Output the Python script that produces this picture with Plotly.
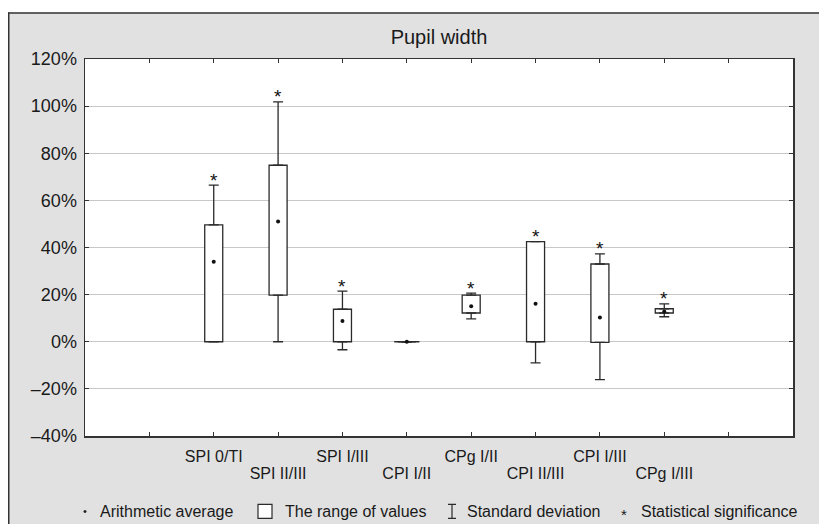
import plotly.graph_objects as go

# ---------------- data ----------------
categories = ["SPI 0/TI", "SPI II/III", "SPI I/III", "CPI I/II",
              "CPg I/II", "CPI II/III", "CPI I/III", "CPg I/III"]
mean_vals = [34.0, 51.0, 8.8, 0.0, 15.1, 16.1, 10.3, 12.8]
range_low = [0.0, 19.8, 0.0, 0.0, 12.2, 0.0, -0.3, 12.2]
range_high = [49.6, 74.9, 13.8, 0.0, 19.8, 42.5, 33.0, 14.0]
sd_low = [0.0, 0.0, -3.4, 0.0, 9.7, -9.0, -16.1, 10.6]
sd_high = [66.5, 101.8, 21.5, 0.0, 20.6, 42.5, 37.3, 16.1]
significant = [True, True, True, False, True, True, True, True]
y_tick_vals = [-40, -20, 0, 20, 40, 60, 80, 100, 120]
y_tick_text = ["\u201340%", "\u201320%", "0%", "20%", "40%", "60%", "80%", "100%", "120%"]
legend_labels = ["Arithmetic average", "The range of values",
                 "Standard deviation", "Statistical significance"]

# ---------------- geometry ----------------
W, H = 819, 524
L, R, T, B = 85, 26, 58.5, 88
pw, ph = W - L - R, H - T - B


def fx(px):  # window pixel -> paper
    return (px - L) / pw


def fy(py):
    return (H - B - py) / ph


positions = list(range(2, 2 + len(categories)))
tick_vals = list(range(1, len(categories) + 3))
row1_vals = [p for i, p in enumerate(positions) if i % 2 == 0]
row1_text = [c for i, c in enumerate(categories) if i % 2 == 0]
row2_vals = [p for i, p in enumerate(positions) if i % 2 == 1]
row2_text = [c for i, c in enumerate(categories) if i % 2 == 1]
row1_full = ["" if v not in row1_vals else row1_text[row1_vals.index(v)] for v in tick_vals]

DARK = "#2a2a2a"
XR = [0, len(categories) + 3]

fig = go.Figure()

# boxes (range of values) with upper whisker
fig.add_trace(go.Bar(
    x=positions, base=range_low,
    y=[h - l for h, l in zip(range_high, range_low)],
    width=0.28,
    marker=dict(color="white", line=dict(color=DARK, width=1.3)),
    error_y=dict(type="data", symmetric=False,
                 array=[s - h for s, h in zip(sd_high, range_high)],
                 arrayminus=[0] * len(categories),
                 color=DARK, thickness=1.3, width=5),
    hoverinfo="skip", showlegend=False,
))
# lower whisker
fig.add_trace(go.Bar(
    x=positions, base=range_low, y=[0] * len(categories), width=0.28,
    marker=dict(color="rgba(0,0,0,0)", line=dict(width=0)),
    error_y=dict(type="data", symmetric=False,
                 array=[0] * len(categories),
                 arrayminus=[l - s for l, s in zip(range_low, sd_low)],
                 color=DARK, thickness=1.3, width=5),
    hoverinfo="skip", showlegend=False,
))
# flat boxes (zero range)
flat_x = [p for p, lo, hi in zip(positions, range_low, range_high) if lo == hi]
flat_y = [lo for lo, hi in zip(range_low, range_high) if lo == hi]
fig.add_trace(go.Scatter(
    x=flat_x, y=flat_y, mode="markers",
    marker=dict(symbol="line-ew", size=18, line=dict(color=DARK, width=1.5)),
    hoverinfo="skip", showlegend=False,
))
# means
fig.add_trace(go.Scatter(
    x=positions, y=mean_vals, mode="markers",
    marker=dict(size=4, color="#111111"),
    hoverinfo="skip", showlegend=False,
))
# dummy trace for the second-row label axis
fig.add_trace(go.Scatter(x=[None], y=[None], xaxis="x2", yaxis="y",
                         hoverinfo="skip", showlegend=False))

annotations = []
# significance stars (data coordinates)
for p, v, s in zip(positions, sd_high, significant):
    if s:
        annotations.append(dict(x=p, y=v, xref="x", yref="y", text="*", showarrow=False,
                                xanchor="center", yanchor="middle", yshift=5,
                                font=dict(size=19, color="#111111")))

shapes = [
    # white area outside the grey frame
    dict(type="rect", xref="paper", yref="paper", x0=fx(-2), x1=fx(W + 2), y0=fy(12), y1=fy(-2),
         fillcolor="white", line=dict(width=0), layer="above"),
    dict(type="rect", xref="paper", yref="paper", x0=fx(-2), x1=fx(8), y0=fy(H + 2), y1=fy(-2),
         fillcolor="white", line=dict(width=0), layer="above"),
    # frame lines
    dict(type="line", xref="paper", yref="paper", x0=fx(8), x1=fx(W + 2), y0=fy(12.5), y1=fy(12.5),
         line=dict(color="#333333", width=1.5), layer="above"),
    dict(type="line", xref="paper", yref="paper", x0=fx(8.75), x1=fx(8.75), y0=fy(12), y1=fy(H + 2),
         line=dict(color="#333333", width=1.5), layer="above"),
]

# legend row
LY = 511.5
shapes.append(dict(type="circle", xref="paper", yref="paper",
                   x0=fx(83.5), x1=fx(86.5), y0=fy(LY + 1.5), y1=fy(LY - 1.5),
                   fillcolor="#222222", line=dict(width=0), layer="above"))
shapes.append(dict(type="rect", xref="paper", yref="paper",
                   x0=fx(258), x1=fx(272), y0=fy(LY + 7), y1=fy(LY - 7),
                   fillcolor="white", line=dict(color=DARK, width=1.2), layer="above"))
ix = 452
shapes.append(dict(type="path", xref="paper", yref="paper",
                   path=(f"M {fx(ix-4)},{fy(LY-7)} L {fx(ix+4)},{fy(LY-7)} "
                         f"M {fx(ix)},{fy(LY-7)} L {fx(ix)},{fy(LY+7)} "
                         f"M {fx(ix-4)},{fy(LY+7)} L {fx(ix+4)},{fy(LY+7)}"),
                   line=dict(color=DARK, width=1.2), layer="above"))

legend_x = [98, 283, 465, 639]
for lx, txt in zip(legend_x, legend_labels):
    annotations.append(dict(xref="paper", yref="paper", x=fx(lx), y=fy(LY),
                            xanchor="left", yanchor="middle", text=txt, showarrow=False,
                            font=dict(size=16, color="#1a1a1a")))
annotations.append(dict(xref="paper", yref="paper", x=fx(624), y=fy(LY + 3),
                        xanchor="center", yanchor="middle", text="*", showarrow=False,
                        font=dict(size=15, color="#1a1a1a")))

fig.update_layout(
    width=W, height=H,
    margin=dict(l=L, r=R, t=T, b=B, pad=0),
    paper_bgcolor="#e1e1e1", plot_bgcolor="white",
    barmode="overlay", showlegend=False,
    font=dict(family="Arial, 'Liberation Sans', sans-serif", color="#1a1a1a"),
    title=dict(text="Pupil width", x=0.5, xref="paper", xanchor="center",
               y=1 - 37 / H, yref="container", yanchor="middle",
               font=dict(size=20, color="#1a1a1a")),
    xaxis=dict(range=XR, tickmode="array",
               tickvals=tick_vals, ticktext=row1_full,
               ticks="inside", ticklen=4, tickcolor="#333333", tickwidth=1,
               showline=True, linecolor="#333333", linewidth=1.5, mirror="ticks",
               showgrid=False, zeroline=False, tickfont=dict(size=16),
               ticklabelstandoff=5),
    xaxis2=dict(range=XR, overlaying="x", side="bottom", anchor="y", tickmode="array",
                tickvals=row2_vals, ticktext=row2_text, ticks="",
                showline=False, showgrid=False, zeroline=False,
                tickfont=dict(size=16), ticklabelstandoff=26),
    yaxis=dict(range=[-40, 120], tickmode="array",
               tickvals=y_tick_vals, ticktext=y_tick_text,
               ticks="inside", ticklen=4, tickcolor="#333333", tickwidth=1,
               showline=True, linecolor="#333333", linewidth=1.5, mirror="ticks",
               showgrid=True, gridcolor="#c8c8c8", gridwidth=1,
               zeroline=False, tickfont=dict(size=18), ticklabelstandoff=3),
    shapes=shapes, annotations=annotations,
)

fig.write_html(
    "out.html",
    config={"displayModeBar": False, "staticPlot": True},
    post_script="document.body.style.margin='0';document.body.style.overflow='hidden';",
)
